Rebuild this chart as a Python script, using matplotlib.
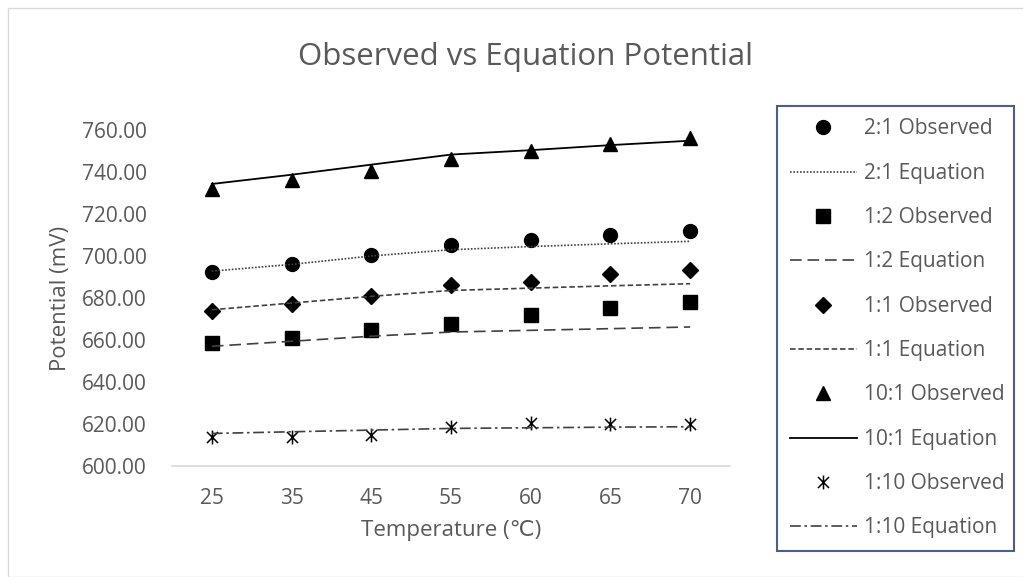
import matplotlib.pyplot as plt
from matplotlib.path import Path
from matplotlib.patches import Rectangle

plt.rcParams['font.family'] = ['Open Sans', 'DejaVu Sans']

temps = ['25', '35', '45', '55', '60', '65', '70']

obs_2_1 = [692.6, 696.3, 700.7, 705.3, 707.7, 710.2, 712.1]
eq_2_1 = [692.8, 696.0, 700.0, 703.0, 704.5, 705.8, 707.0]
obs_1_2 = [658.8, 661.0, 665.0, 667.5, 671.7, 675.4, 678.2]
eq_1_2 = [657.0, 659.4, 661.8, 663.8, 664.6, 665.4, 666.2]
obs_1_1 = [673.6, 677.3, 680.9, 686.0, 687.6, 691.5, 693.4]
eq_1_1 = [674.4, 677.6, 680.8, 683.6, 684.7, 685.8, 686.8]
obs_10_1 = [732.0, 736.0, 740.6, 746.0, 750.0, 753.3, 756.4]
eq_10_1 = [734.3, 738.7, 743.5, 748.3, 750.4, 752.8, 754.9]
obs_1_10 = [613.9, 613.9, 615.0, 618.7, 620.3, 620.0, 620.0]
eq_1_10 = [615.5, 616.3, 617.1, 617.9, 618.2, 618.5, 618.7]

# star marker: an x with a vertical bar through it
star = Path([(-1, -1), (1, 1), (-1, 1), (1, -1), (0, -1.25), (0, 1.25)],
            [Path.MOVETO, Path.LINETO, Path.MOVETO, Path.LINETO, Path.MOVETO, Path.LINETO])

fig = plt.figure(figsize=(10.23, 5.77), dpi=100)
ax = fig.add_axes([172/1023, 1 - 466/577, 558/1023, 336/577])
x = range(len(temps))

ax.plot(x, obs_2_1, 'o', color='black', ms=10, ls='none', label='2:1 Observed')
ax.plot(x, eq_2_1, color='#404040', lw=1.2, ls=(0, (1, 1)), label='2:1 Equation')
ax.plot(x, obs_1_2, 's', color='black', ms=10, ls='none', label='1:2 Observed')
ax.plot(x, eq_1_2, color='#404040', lw=1.2, ls=(0, (7, 3.5)), label='1:2 Equation')
ax.plot(x, obs_1_1, 'D', color='black', ms=8.5, ls='none', label='1:1 Observed')
ax.plot(x, eq_1_1, color='#404040', lw=1.2, ls=(0, (3.3, 1.7)), label='1:1 Equation')
ax.plot(x, obs_10_1, '^', color='black', ms=10, ls='none', label='10:1 Observed')
ax.plot(x, eq_10_1, color='black', lw=1.3, ls='-', label='10:1 Equation')
ax.plot(x, obs_1_10, marker=star, color='black', mew=1.1, ms=10, ls='none', label='1:10 Observed')
ax.plot(x, eq_1_10, color='#404040', lw=1.2, ls=(0, (6.5, 2.2, 1.5, 2.2)), label='1:10 Equation')

ax.set_xlim(-0.5, 6.5)
ax.set_ylim(600, 760)
ax.set_xticks(list(x))
ax.set_xticklabels(temps)
ax.set_yticks(range(600, 761, 20))
ax.set_yticklabels([f'{v:.2f}' for v in range(600, 761, 20)])
ax.tick_params(length=0, labelsize=15, colors='#595959')
ax.tick_params(axis='x', pad=16)
ax.tick_params(axis='y', pad=18)
for s in ['top', 'right', 'left']:
    ax.spines[s].set_visible(False)
ax.spines['bottom'].set_color('#d9d9d9')
ax.spines['bottom'].set_linewidth(1.2)

ax.set_xlabel('Temperature (℃)', fontsize=16, color='#595959', labelpad=8)
ax.set_ylabel('Potential (mV)', fontsize=16, color='#595959', labelpad=8)
fig.text(526/1023, 1 - 65/577, 'Observed vs Equation Potential', fontsize=22.5,
         color='#595959', ha='center', va='baseline')

leg = fig.legend(loc='upper left', bbox_to_anchor=(777/1023, 1 - 543/577, 237/1023, 437/577),
                 mode='expand', fontsize=15, frameon=True, fancybox=False,
                 handlelength=3.25, handletextpad=0.35, labelspacing=1.12,
                 borderpad=0.6, borderaxespad=0)
leg.get_frame().set_edgecolor('#1f3864')
leg.get_frame().set_linewidth(1.5)
for t in leg.get_texts():
    t.set_color('#595959')

fig.patches.append(Rectangle((8/1023, 0), 2, 1 - 8/577, transform=fig.transFigure,
                             fill=False, edgecolor='#d9d9d9', lw=1))

fig.savefig('out.png', dpi=100)
